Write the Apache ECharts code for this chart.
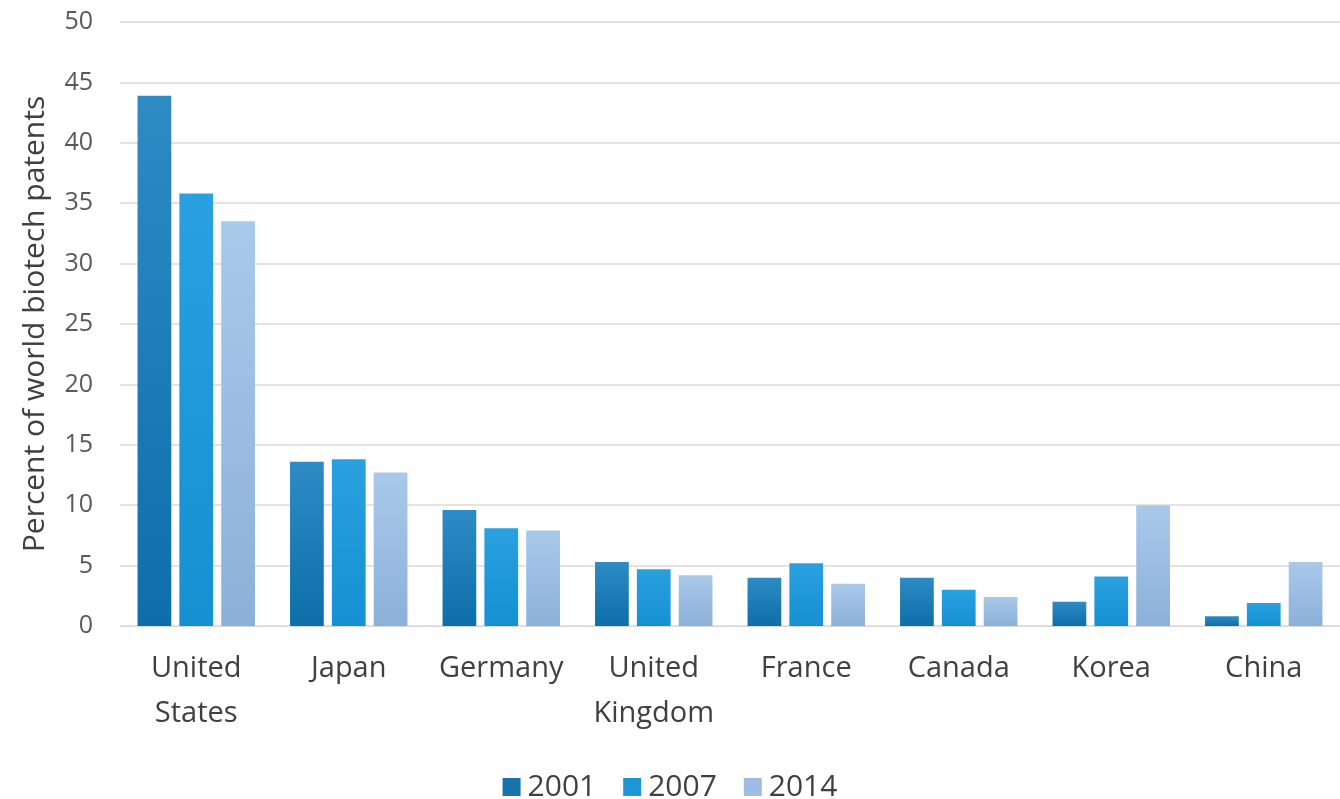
<!DOCTYPE html>
<html><head><meta charset="utf-8">
<script src="https://cdn.jsdelivr.net/npm/echarts@6/dist/echarts.min.js"></script>
<style>html,body{margin:0;padding:0;background:#fff}#c{width:1340px;height:799px}</style>
</head><body><div id="c"></div>
<script>
const categories = ['United\nStates','Japan','Germany','United\nKingdom','France','Canada','Korea','China'];
const years = ['2001','2007','2014'];
const v2001 = [43.9, 13.6, 9.6, 5.3, 4.0, 4.0, 2.0, 0.8];
const v2007 = [35.8, 13.8, 8.1, 4.7, 5.2, 3.0, 4.1, 1.9];
const v2014 = [33.5, 12.7, 7.9, 4.2, 3.5, 2.4, 10.0, 5.3];
const yTicks = [0,5,10,15,20,25,30,35,40,45,50];

const grad = (top, bottom) => new echarts.graphic.LinearGradient(0,0,0,1,[{offset:0,color:top},{offset:1,color:bottom}]);
const styles = [
  {c: grad('#2e8bc4','#0d6ea9'), legend:'#1872ad'},
  {c: grad('#2aa0e0','#1590d2'), legend:'#1e96d6'},
  {c: grad('#a9c9ea','#8cb0d8'), legend:'#9dbde3'}
];
const data = [v2001, v2007, v2014];
const font = "'Open Sans', sans-serif";
const chart = echarts.init(document.getElementById('c'));
chart.setOption({
  animation:false,
  textStyle:{fontFamily:font},
  grid:{left:120, right:-14, top:22, bottom:173},
  legend:{top:767, left:'center', itemWidth:18, itemHeight:18, itemGap:27,
    icon:'rect', textStyle:{fontSize:30, color:'#404040', fontFamily:font, padding:[0,0,0,2]},
    data: years.map((y,i)=>({name:y, itemStyle:{color:styles[i].legend}}))},
  xAxis:{type:'category', data:categories,
    axisLine:{lineStyle:{color:'#d9d9d9', width:1}}, axisTick:{show:false},
    axisLabel:{interval:0, fontSize:29, color:'#404040', margin:20, lineHeight:45, fontFamily:font}},
  yAxis:{type:'value', min:0, max:50, interval:5,
    name:'Percent of world biotech patents', nameLocation:'middle', nameGap:70,
    nameTextStyle:{fontSize:30, color:'#404040', fontFamily:font},
    axisLine:{show:false}, axisTick:{show:false},
    splitLine:{lineStyle:{color:'#e3e3e3', width:2}},
    axisLabel:{fontSize:25, color:'#595959', margin:27, fontFamily:font,
      formatter:(v)=> yTicks.includes(v) ? String(v) : ''}},
  series: years.map((y,i)=>({name:y, type:'bar', data:data[i], barGap:'24%', barCategoryGap:'23%',
    itemStyle:{color:styles[i].c}}))
});
</script></body></html>
